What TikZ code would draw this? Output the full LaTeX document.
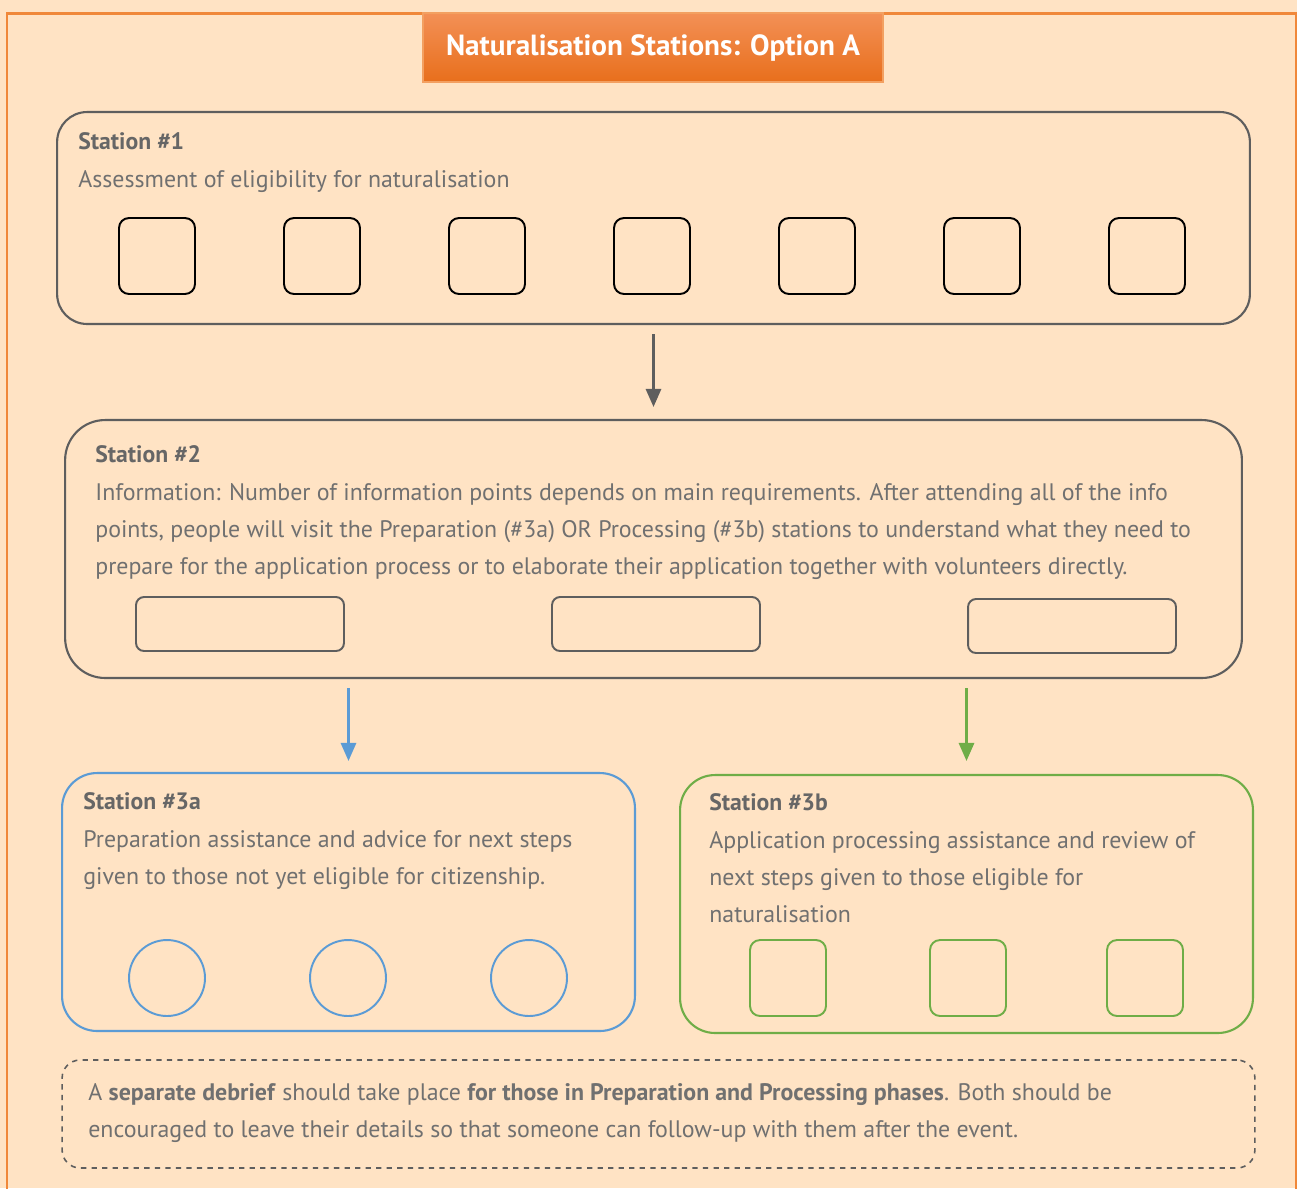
\documentclass[tikz,border=0pt]{standalone}
\usepackage{fontspec}
\setmainfont{PT Sans}
\usetikzlibrary{arrows.meta,positioning}

\definecolor{peach}{HTML}{FFE3C4}
\definecolor{framecol}{HTML}{F0883A}
\definecolor{titletop}{HTML}{F39056}
\definecolor{titlebot}{HTML}{E86F1C}
\definecolor{boxgray}{HTML}{5E5E5E}
\definecolor{textgray}{HTML}{707070}
\definecolor{headgray}{HTML}{666666}
\definecolor{bluecol}{HTML}{5B9BD5}
\definecolor{greencol}{HTML}{6FAD47}

\tikzset{
  station/.style={draw=boxgray, line width=1.2pt, minimum width=23.86cm, minimum height=5.16cm},
  slot/.style={draw=black, line width=1.1pt, rounded corners=0.2cm, minimum width=1.52cm, minimum height=1.52cm},
  infoslot/.style={draw=boxgray, line width=1.1pt, rounded corners=0.16cm, minimum width=4.16cm, minimum height=1.08cm},
  heading/.style={anchor=base west, inner sep=0pt, text=headgray, font=\fontsize{13.5}{21}\selectfont\bfseries},
  body/.style={anchor=north west, inner sep=0pt, align=left, text=textgray, font=\fontsize{13.6}{21}\selectfont},
  flow/.style={line width=1.6pt, -{Triangle[length=0.36cm,width=0.3cm]}}
}

\begin{document}
\begin{tikzpicture}[x=0.02cm,y=-0.02cm]
  %% page and frame
  \fill[peach] (0,0) rectangle (1297,1188);
  \useasboundingbox (0,0) rectangle (1297,1188);
  \draw[framecol, line width=1.7pt] (7,1190) -- (7,13) -- (1296,13) -- (1296,1190);

  %% title
  \node[top color=titletop, bottom color=titlebot, draw=framecol!80, line width=0.8pt,
        minimum width=9.2cm, minimum height=1.38cm, text=white,
        font=\fontsize{16.6}{19}\selectfont\bfseries] (title) at (653,47.5)
        {Naturalisation Stations: Option A};

  %% station 1
  \node[station, rounded corners=0.6cm, minimum height=4.24cm] (st1) at (653.5,218) {};
  \node[heading] (st1head) at (78,149) {Station \#1};
  \node[body] (st1text) at (78,170) {Assessment of eligibility for naturalisation};
  \foreach \i in {0,...,6}
    \node[slot] (check\i) at (157+165*\i,256) {};

  %% station 2
  \node[station, rounded corners=0.8cm, minimum width=23.54cm] (st2) at (653.5,549) {};
  \node[heading] (st2head) at (95,462) {Station \#2};
  \node[body] (st2text) at (95,483) {Information: Number of information points depends on main requirements. After attending all of the info\\
    points, people will visit the Preparation (\#3a) OR Processing (\#3b) stations to understand what they need to\\
    prepare for the application process or to elaborate their application together with volunteers directly.};
  \node[infoslot] (info1) at (240,624) {};
  \node[infoslot] (info2) at (656,624) {};
  \node[infoslot] (info3) at (1072,626) {};

  %% station 3a
  \node[station, draw=bluecol, rounded corners=0.7cm, minimum width=11.46cm] (st3a) at (348.5,902) {};
  \node[heading] (st3ahead) at (83,809) {Station \#3a};
  \node[body] (st3atext) at (83,830) {Preparation assistance and advice for next steps\\
    given to those not yet eligible for citizenship.};
  \foreach \x [count=\n] in {167,348,529}
    \node[draw=bluecol, line width=1.1pt, circle, minimum size=1.52cm] (prep\n) at (\x,978) {};

  %% station 3b
  \node[station, draw=greencol, rounded corners=0.7cm, minimum width=11.46cm] (st3b) at (966.5,904) {};
  \node[heading] (st3bhead) at (709,810) {Station \#3b};
  \node[body] (st3btext) at (709,831) {Application processing assistance and review of\\
    next steps given to those eligible for\\
    naturalisation};
  \foreach \x [count=\n] in {788,968,1145}
    \node[slot, draw=greencol] (proc\n) at (\x,978) {};

  %% debrief note
  \node[draw=boxgray, dashed, line width=0.9pt, rounded corners=0.36cm,
        minimum width=23.86cm, minimum height=2.16cm] (debrief) at (658.5,1114) {};
  \node[body] (debrieftext) at (88,1083) {A \textbf{separate debrief} should take place \textbf{for those in Preparation and Processing phases}. Both should be\\
    encouraged to leave their details so that someone can follow-up with them after the event.};

  %% connectors
  \draw[flow, draw=boxgray, fill=boxgray, shorten <=0.18cm, shorten >=0.24cm] (st1.south) -- (st2.north);
  \draw[flow, draw=bluecol, fill=bluecol, shorten <=0.18cm, shorten >=0.22cm] (st2.south -| st3a.north) -- (st3a.north);
  \draw[flow, draw=greencol, fill=greencol, shorten <=0.18cm, shorten >=0.26cm] (st2.south -| st3b.north) -- (st3b.north);
\end{tikzpicture}
\end{document}
